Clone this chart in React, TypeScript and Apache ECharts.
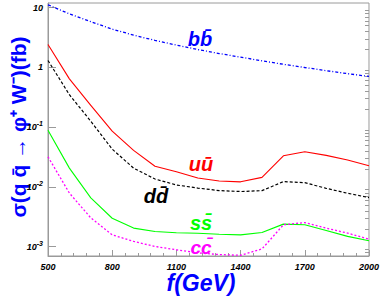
import React, { useEffect, useRef } from 'react';
import * as echarts from 'echarts';

// f (GeV)
const energies = [500, 600, 700, 800, 900, 1000, 1100, 1200, 1300, 1400, 1500, 1600, 1700, 1800, 1900, 2000];
// sigma (fb)
const bbbar = [11.2, 7.9, 5.85, 4.38, 3.48, 2.84, 2.37, 2.0, 1.71, 1.49, 1.29, 1.13, 1.0, 0.885, 0.788, 0.708];
const uubar = [2.42, 0.645, 0.233, 0.0858, 0.041, 0.0222, 0.018, 0.0141, 0.0126, 0.0122, 0.0145, 0.0333, 0.0388, 0.0338, 0.0282, 0.0226];
const ddbar = [1.31, 0.35, 0.126, 0.043, 0.0207, 0.0136, 0.0108, 0.0096, 0.0087, 0.0084, 0.00868, 0.0123, 0.0118, 0.0095, 0.00785, 0.00664];
const ssbar = [0.089, 0.0207, 0.00656, 0.003, 0.00205, 0.0018, 0.00171, 0.00168, 0.00162, 0.00158, 0.00173, 0.00239, 0.00233, 0.00187, 0.00149, 0.00126];
const ccbar = [0.032, 0.0079, 0.00304, 0.00158, 0.00123, 0.00101, 0.00089, 0.00079, 0.00074, 0.00072, 0.00092, 0.00233, 0.00254, 0.00205, 0.00169, 0.00134];

const xTicks = [500, 800, 1100, 1400, 1700, 2000];
const yMajorTicks = [0.001, 0.01, 0.1, 1, 10];

const FONT = '"Liberation Sans", Arial, Helvetica, sans-serif';
const AXIS_GREY = '#9a9a9a';

function minorLogTicks(lo: number, hi: number): number[] {
  const out: number[] = [];
  for (let e = -4; e <= 1; e++) {
    for (let m = 2; m <= 9; m++) {
      const v = m * Math.pow(10, e);
      if (v >= lo && v <= hi) out.push(Number(v.toPrecision(3)));
    }
  }
  return out;
}

const Y_MIN = 7e-4;
const Y_MAX = 12;

export default function App() {
  const ref = useRef<HTMLDivElement>(null);
  useEffect(() => {
    if (!ref.current) return;
    const chart = echarts.init(ref.current, undefined, { renderer: 'svg' });
    const pair = (arr: number[]) => energies.map((f, i) => [f, arr[i]]);
    const labelStyle = {
      color: '#000',
      fontFamily: FONT,
      fontStyle: 'italic' as const,
      fontWeight: 'bold' as const,
    };
    const option: any = {
      animation: false,
      backgroundColor: '#fff',
      grid: { left: 48, right: 8, top: 3, bottom: 47, show: true, borderColor: AXIS_GREY, borderWidth: 1 },
      xAxis: {
        type: 'value',
        min: 500,
        max: 2000,
        interval: 300,
        axisLine: { show: true, lineStyle: { color: AXIS_GREY, width: 1 } },
        axisTick: { show: true, inside: true, length: 6, lineStyle: { color: AXIS_GREY } },
        minorTick: { show: true, splitNumber: 5, length: 3, lineStyle: { color: AXIS_GREY } },
        splitLine: { show: false },
        axisLabel: {
          ...labelStyle,
          fontSize: 9,
          margin: 6,
          customValues: xTicks,
          formatter: (v: number) => String(v),
        },
      },
      yAxis: [
        {
          type: 'log',
          logBase: 10,
          min: Y_MIN,
          max: Y_MAX,
          axisLine: { show: true, lineStyle: { color: AXIS_GREY, width: 1 } },
          axisTick: { show: true, inside: true, length: 8, customValues: yMajorTicks, lineStyle: { color: AXIS_GREY } },
          splitLine: { show: false },
          axisLabel: {
            ...labelStyle,
            fontSize: 9,
            margin: 5,
            customValues: yMajorTicks,
            formatter: (v: number) => {
              const e = Math.round(Math.log10(v));
              if (e === 0) return '1';
              if (e === 1) return '10';
              return '10{s|' + e + '}';
            },
            rich: {
              s: { ...labelStyle, fontSize: 7, padding: [0, 0, 7, 0] },
            },
          },
        },
        {
          type: 'log',
          logBase: 10,
          min: Y_MIN,
          max: Y_MAX,
          axisLine: { show: false },
          axisTick: { show: true, inside: true, length: 4, customValues: minorLogTicks(Y_MIN, Y_MAX), lineStyle: { color: AXIS_GREY } },
          splitLine: { show: false },
          axisLabel: { show: false },
        },
      ],
      series: [
        { name: 'bbbar', type: 'line', data: pair(bbbar), showSymbol: false, lineStyle: { color: '#0000ff', width: 1.3, type: [3, 2, 1, 2] } },
        { name: 'uubar', type: 'line', data: pair(uubar), showSymbol: false, lineStyle: { color: '#ff0000', width: 1.1, type: 'solid' } },
        { name: 'ddbar', type: 'line', data: pair(ddbar), showSymbol: false, lineStyle: { color: '#000000', width: 1.2, type: [3, 2] } },
        { name: 'ssbar', type: 'line', data: pair(ssbar), showSymbol: false, lineStyle: { color: '#00ff00', width: 1.1, type: 'solid' } },
        { name: 'ccbar', type: 'line', data: pair(ccbar), showSymbol: false, lineStyle: { color: '#ff00ff', width: 1.3, type: [2, 2] } },
      ],
      graphic: [
        { type: 'text', x: 200, y: 39, style: { text: 'bb\u0304', fill: '#0000ff', fontSize: 20, fontFamily: FONT, fontStyle: 'italic', fontWeight: 'bold', align: 'center', verticalAlign: 'middle' } },
        { type: 'text', x: 201, y: 164, style: { text: 'u\u016b', fill: '#ff0000', fontSize: 20, fontFamily: FONT, fontStyle: 'italic', fontWeight: 'bold', align: 'center', verticalAlign: 'middle' } },
        { type: 'text', x: 156, y: 196, style: { text: 'dd\u0304', fill: '#000000', fontSize: 20, fontFamily: FONT, fontStyle: 'italic', fontWeight: 'bold', align: 'center', verticalAlign: 'middle' } },
        { type: 'text', x: 201, y: 223, style: { text: 'ss\u0304', fill: '#00ff00', fontSize: 20, fontFamily: FONT, fontStyle: 'italic', fontWeight: 'bold', align: 'center', verticalAlign: 'middle' } },
        { type: 'text', x: 201, y: 247, style: { text: 'cc\u0304', fill: '#ff00ff', fontSize: 19, fontFamily: FONT, fontStyle: 'italic', fontWeight: 'bold', align: 'center', verticalAlign: 'middle' } },
        { type: 'text', x: 201, y: 283, style: { text: 'f(GeV)', fill: '#0000ff', fontSize: 23, fontFamily: FONT, fontStyle: 'italic', fontWeight: 'bold', align: 'center', verticalAlign: 'middle' } },
        { type: 'text', x: 18, y: 127, rotation: Math.PI / 2, style: { text: '\u03c3(q q\u0304 \u2192 \u03c6\u207a W\u207b)(fb)', fill: '#0000ff', fontSize: 21, fontFamily: FONT, fontWeight: 'bold', align: 'center', verticalAlign: 'middle' } },
      ],
    };
    chart.setOption(option);
    return () => chart.dispose();
  }, []);
  return <div ref={ref} style={{ position: 'fixed', left: 0, top: 0, width: 382, height: 303 }} />;
}
